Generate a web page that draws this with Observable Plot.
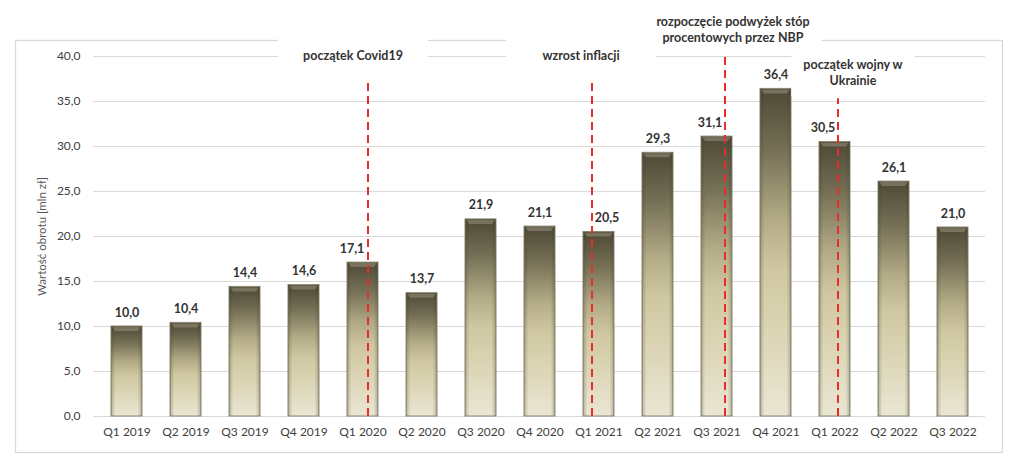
<!DOCTYPE html>
<html><head><meta charset="utf-8">
<script src="https://cdn.jsdelivr.net/npm/d3@7"></script>
<script src="https://cdn.jsdelivr.net/npm/@observablehq/plot@0.6"></script>
<style>
html,body{margin:0;padding:0;background:#fff;}
#chart{width:1024px;height:472px;}
</style></head><body><div id="chart"></div>
<script>
// ---- data ----
const quarters = ["Q1 2019","Q2 2019","Q3 2019","Q4 2019","Q1 2020","Q2 2020","Q3 2020","Q4 2020","Q1 2021","Q2 2021","Q3 2021","Q4 2021","Q1 2022","Q2 2022","Q3 2022"];
const values = [10.0,10.4,14.4,14.6,17.1,13.7,21.9,21.1,20.5,29.3,31.1,36.4,30.5,26.1,21.0];
const yTicks = [0,5,10,15,20,25,30,35,40];
const yLabel = "Wartość obrotu [mln zł]";
const eventQuarters = ["Q1 2020","Q1 2021","Q3 2021","Q1 2022"];
const eventLabels = ["początek Covid19","wzrost inflacji","rozpoczęcie podwyżek stóp\nprocentowych przez NBP","początek wojny w\nUkrainie"];
const eventLineTops = [37.2,37.2,40.3,35.3];

const bars = quarters.map((q,i)=>({quarter:q, value:values[i]}));
const events = eventQuarters.map((q,i)=>({quarter:q, label:eventLabels[i], top:eventLineTops[i]}));

// ---- layout (annotation placement) ----
const annLayout = [
  {labelY:40.2, labelDx:-10, lineDx:5, valueDx:-11},
  {labelY:40.2, labelDx:-18, lineDx:-7, valueDx:8},
  {labelY:43.1, labelDx:16, lineDx:8, valueDx:-7},
  {labelY:38.3, labelDx:18, lineDx:3, valueDx:-12}
];
const valueDx = q => { const i = eventQuarters.indexOf(q); return i < 0 ? 0 : annLayout[i].valueDx; };
const fmt = v => v.toFixed(1).replace(".", ",");

const defs = () => {
  const d = d3.create("svg:defs");
  const g = d.append("linearGradient").attr("id","barGrad").attr("x1",0).attr("y1",0).attr("x2",0).attr("y2",1);
  [[0,"#4d4935"],[0.18,"#736e54"],[0.4,"#b3ab86"],[0.55,"#cfc7a1"],[0.7,"#d9d2b0"],[1,"#e9e6d3"]]
    .forEach(([o,c])=>g.append("stop").attr("offset",o).attr("stop-color",c));
  const s = d.append("linearGradient").attr("id","barSide").attr("x1",0).attr("y1",0).attr("x2",1).attr("y2",0);
  [[0,"#3c3828",0.3],[0.14,"#3c3828",0],[0.86,"#3c3828",0],[1,"#3c3828",0.3]]
    .forEach(([o,c,a])=>s.append("stop").attr("offset",o).attr("stop-color",c).attr("stop-opacity",a));
  return d.node();
};

const plot = Plot.plot({
  width:1024, height:472,
  marginLeft:93, marginRight:39, marginTop:56, marginBottom:56,
  style:{fontFamily:"Lato, 'Open Sans', sans-serif", fontSize:"12px", color:"#404040", background:"#fff"},
  x:{domain:quarters, paddingInner:0.48, paddingOuter:0.24, label:null},
  y:{domain:[0,40], label:null},
  marks:[
    defs,
    Plot.gridY(yTicks, {stroke:"#d9d9d9", strokeOpacity:1}),
    Plot.frame({stroke:"#d9d9d9", strokeWidth:1.3, insetLeft:-78, insetRight:-17, insetTop:-16, insetBottom:-36}),
    Plot.axisY({ticks:yTicks, tickSize:0, tickPadding:13, tickFormat:fmt, label:null, fontSize:12, fill:"#404040"}),
    Plot.axisX({tickSize:0, tickPadding:11, label:null, fontSize:12, fill:"#404040"}),
    Plot.text([yLabel], {frameAnchor:"left", textAnchor:"middle", dx:-51, rotate:-90, fontSize:11.5, fill:"#595959"}),
    Plot.barY(bars, {x:"quarter", y:"value", fill:"url(#barGrad)", stroke:"#8e8a72", strokeWidth:1}),
    Plot.barY(bars, {x:"quarter", y:"value", fill:"url(#barSide)"}),
    ...bars.map(b=>Plot.text([b], {x:"quarter", y:"value", text:d=>fmt(d.value), dy:-14, dx:valueDx(b.quarter), fontWeight:"bold", fontSize:12.5, fill:"#333333"})),
    ...events.map((e,i)=>Plot.ruleX([e], {x:"quarter", y1:0, y2:"top", dx:annLayout[i].lineDx, stroke:"#ee2b2b", strokeWidth:2, strokeDasharray:"8,5"})),
    ...events.map((e,i)=>Plot.text([e], {x:"quarter", y:()=>annLayout[i].labelY, text:"label", dx:annLayout[i].labelDx,
        lineAnchor:"middle", lineHeight:1.3, fontWeight:"bold", fontSize:12.5, fill:"#333333"}))
  ]
});

document.getElementById("chart").append(plot);

// bevel highlight at the top of each bar
d3.select(plot).selectAll('g[fill="url(#barGrad)"] rect').each(function(){
  const x = +this.getAttribute("x"), y = +this.getAttribute("y"), w = +this.getAttribute("width");
  const p = d3.select(this.parentNode);
  p.append("path")
    .attr("d", `M${x+1},${y+1}H${x+w-1}L${x+w-4},${y+5}H${x+4}Z`)
    .attr("fill", "#fffbe8").attr("fill-opacity", 0.22).attr("stroke", "none");
});

// white boxes behind event annotations
const flat = eventLabels.map(s => s.replace(/\n/g, ""));
d3.select(plot).selectAll("text").filter(function(){ return flat.includes(this.textContent); }).each(function(){
  const bb = this.getBBox();
  const multi = this.querySelectorAll("tspan").length > 1;
  const padX = multi ? 12 : Math.max(12, (150 - bb.width)/2);
  const padY = multi ? 8 : 10;
  const r = d3.select(this.parentNode).insert("rect", () => this)
    .attr("x", bb.x - padX).attr("y", bb.y - padY)
    .attr("width", bb.width + 2*padX).attr("height", bb.height + 2*padY)
    .attr("fill", "#ffffff").attr("stroke", "none");
  const t = this.getAttribute("transform");
  if (t) r.attr("transform", t);
});
</script></body></html>
